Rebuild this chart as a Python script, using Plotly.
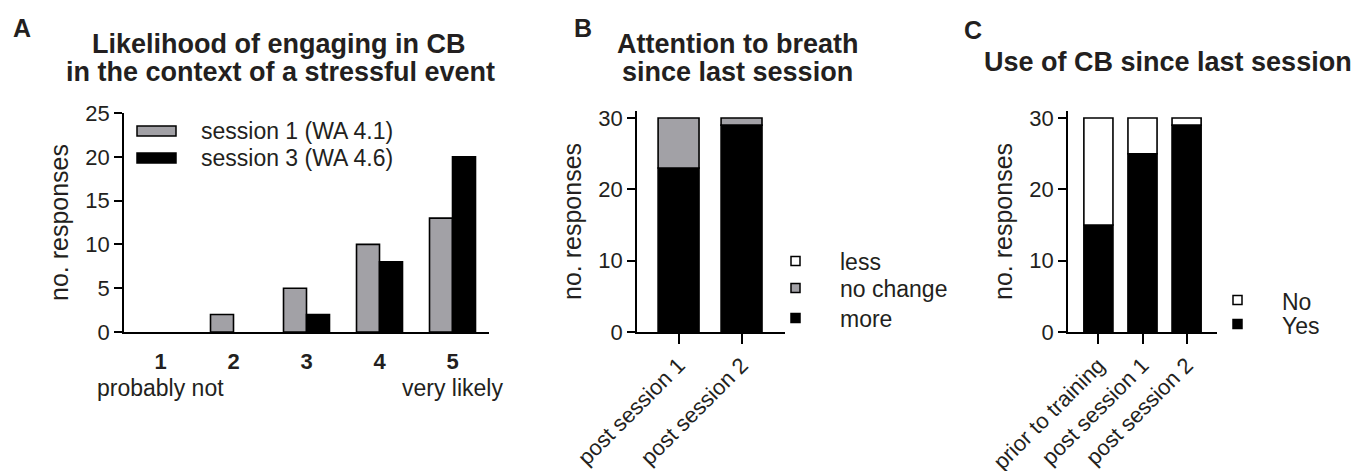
import plotly.graph_objects as go

W, H = 1372, 471

# ---------------- data ----------------
# Panel A
likert = [1, 2, 3, 4, 5]
likert_ticktext = ["<b>1</b>", "<b>2</b>", "<b>3</b>", "<b>4</b>", "<b>5</b>"]
session1 = [0, 2, 5, 10, 13]
session3 = [0, 0, 2, 8, 20]
a_ticks = [0, 5, 10, 15, 20, 25]

# Panel B
b_cats = ["post session 1", "post session 2"]
b_more = [23, 29]
b_nochange = [7, 1]
b_less = [0, 0]

# Panel C
c_cats = ["prior to training", "post session 1", "post session 2"]
c_yes = [15, 25, 29]
c_no = [15, 5, 1]
bc_ticks = [0, 10, 20, 30]

# ---------------- style ----------------
FONT = "Liberation Sans, Arial, Helvetica, sans-serif"
TXT = "#231f20"
GREY = "#a2a1a6"
LW = 1.6


def px(x):
    return x / W


def py(y):
    return 1 - y / H


def outline(vals):
    # no outline for empty (zero-height) bars
    return [LW if v > 0 else 0 for v in vals]


fig = go.Figure()

# Panel A bars (side by side)
fig.add_trace(go.Bar(x=likert, y=session1, name="session 1 (WA 4.1)",
                     marker=dict(color=GREY, line=dict(color="black", width=outline(session1))),
                     width=0.315, offset=-0.315, xaxis="x", yaxis="y", showlegend=False))
fig.add_trace(go.Bar(x=likert, y=session3, name="session 3 (WA 4.6)",
                     marker=dict(color="black", line=dict(color="black", width=outline(session3))),
                     width=0.315, offset=0, xaxis="x", yaxis="y", showlegend=False))

# Panel B stacked bars
b_base_nc = b_more
b_base_less = [m + n for m, n in zip(b_more, b_nochange)]
fig.add_trace(go.Bar(x=b_cats, y=b_more, name="more", width=0.65,
                     marker=dict(color="black", line=dict(color="black", width=outline(b_more))),
                     xaxis="x2", yaxis="y2", showlegend=False))
fig.add_trace(go.Bar(x=b_cats, y=b_nochange, base=b_base_nc, name="no change", width=0.65,
                     marker=dict(color=GREY, line=dict(color="black", width=outline(b_nochange))),
                     xaxis="x2", yaxis="y2", showlegend=False))
fig.add_trace(go.Bar(x=b_cats, y=b_less, base=b_base_less, name="less", width=0.65,
                     marker=dict(color="white", line=dict(color="black", width=outline(b_less))),
                     xaxis="x2", yaxis="y2", showlegend=False))

# Panel C stacked bars
fig.add_trace(go.Bar(x=c_cats, y=c_yes, name="Yes", width=0.66,
                     marker=dict(color="black", line=dict(color="black", width=outline(c_yes))),
                     xaxis="x3", yaxis="y3", showlegend=False))
fig.add_trace(go.Bar(x=c_cats, y=c_no, base=c_yes, name="No", width=0.66,
                     marker=dict(color="white", line=dict(color="black", width=outline(c_no))),
                     xaxis="x3", yaxis="y3", showlegend=False))

tickfont = dict(family=FONT, size=22, color=TXT)
titlefont = dict(family=FONT, size=25, color=TXT)

common_y = dict(showline=True, linecolor="black", linewidth=LW, ticks="outside",
                ticklen=8, tickwidth=LW, tickcolor="black", showgrid=False,
                zeroline=False, tickfont=tickfont, fixedrange=True, automargin=False)
common_x = dict(showline=True, linecolor="black", linewidth=LW, showgrid=False,
                zeroline=False, fixedrange=True, automargin=False)

ybot = py(332)

fig.update_layout(
    width=W, height=H,
    margin=dict(l=0, r=0, t=0, b=0, autoexpand=False),
    paper_bgcolor="white", plot_bgcolor="white",
    barmode="overlay",
    font=dict(family=FONT, color=TXT),
    xaxis=dict(domain=[px(124), px(489)], range=[0.5, 5.5], tickvals=likert,
               ticktext=likert_ticktext, ticks="", ticklabelstandoff=9,
               anchor="y", tickfont=dict(family=FONT, size=22, color=TXT), **common_x),
    yaxis=dict(domain=[ybot, py(113)], range=[0, 25], tickvals=a_ticks, anchor="x",
               title=dict(text="no. responses", font=titlefont, standoff=10), **common_y),
    xaxis2=dict(domain=[px(637), px(785)], range=[-0.66, 1.69], type="category",
                ticks="outside", ticklen=10, tickwidth=LW, tickcolor="black",
                tickangle=-45, anchor="y2",
                tickfont=dict(family=FONT, size=22, color=TXT), **common_x),
    yaxis2=dict(domain=[ybot, py(110.9)], range=[0, 31], tickvals=bc_ticks, anchor="x2",
                title=dict(text="no. responses", font=titlefont, standoff=10), **common_y),
    xaxis3=dict(domain=[px(1068), px(1217)], range=[-0.69, 2.69], type="category",
                ticks="outside", ticklen=10, tickwidth=LW, tickcolor="black",
                tickangle=-45, anchor="y3",
                tickfont=dict(family=FONT, size=22, color=TXT), **common_x),
    yaxis3=dict(domain=[ybot, py(110.9)], range=[0, 31], tickvals=bc_ticks, anchor="x3",
                title=dict(text="no. responses", font=titlefont, standoff=10), **common_y),
)

ann = []


def text(x, y, s, size=23, bold=False, xanchor="center", yanchor="middle", xref="paper", xv=None):
    ann.append(dict(
        x=px(x) if xv is None else xv, y=py(y), xref=xref, yref="paper",
        text=f"<b>{s}</b>" if bold else s, showarrow=False,
        xanchor=xanchor, yanchor=yanchor,
        font=dict(family=FONT, size=size, color=TXT)))


# Panel letters
text(22, 28, "A", size=25, bold=True)
text(583, 28, "B", size=25, bold=True)
text(973, 30, "C", size=25, bold=True)

# Titles
text(278, 44, "Likelihood of engaging in CB", size=27, bold=True)
text(280, 72, "in the context of a stressful event", size=27, bold=True)
text(738, 44, "Attention to breath", size=27, bold=True)
text(738, 72, "since last session", size=27, bold=True)
text(1168, 62, "Use of CB since last session", size=27, bold=True)

# Panel A extra category labels
text(0, 388, "probably not", xref="x", xv=likert[0])
text(0, 388, "very likely", xref="x", xv=likert[-1])

shapes = []


def rect(x0, y0, x1, y1, fill):
    shapes.append(dict(type="rect", xref="paper", yref="paper",
                       x0=px(x0), x1=px(x1), y0=py(y1), y1=py(y0),
                       fillcolor=fill, line=dict(color="black", width=1.5)))


# Legend A
rect(137, 126, 176, 136, GREY)
rect(137, 153, 176, 163, "black")
text(199, 131, "session 1 (WA 4.1)", xanchor="left")
text(199, 158, "session 3 (WA 4.6)", xanchor="left")

# Legend B
for yy, fill, lab in [(261, "white", "less"), (288, GREY, "no change"), (318, "black", "more")]:
    rect(791, yy - 4.5, 800, yy + 4.5, fill)
    text(838, yy + 1, lab, xanchor="left")

# Legend C
for yy, fill, lab in [(300, "white", "No"), (324, "black", "Yes")]:
    rect(1233, yy - 4.5, 1242, yy + 4.5, fill)
    text(1280, yy + 2, lab, xanchor="left")

fig.update_layout(annotations=ann, shapes=shapes)

fig.write_html("out.html")
